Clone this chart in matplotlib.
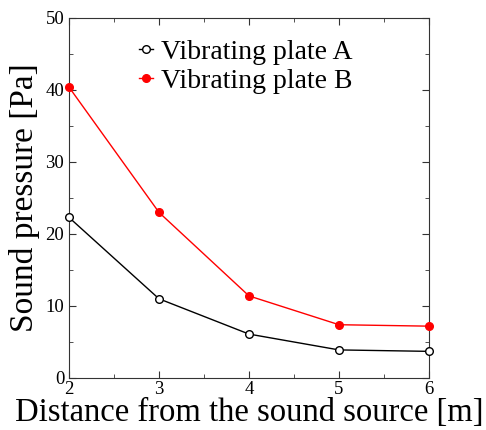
import matplotlib
matplotlib.use('Agg')
import matplotlib.pyplot as plt
from matplotlib.ticker import MultipleLocator

plt.rcParams['font.family'] = ['Liberation Serif', 'DejaVu Serif']
plt.rcParams['mathtext.fontset'] = 'stix'

distance = [2, 3, 4, 5, 6]
plate_a = [22.3, 11.0, 6.1, 3.9, 3.7]
plate_b = [40.4, 23.0, 11.4, 7.4, 7.2]

fig = plt.figure(figsize=(4.86, 4.30), dpi=100)
ax = fig.add_axes([69/486, 52/430, 360/486, 360/430])

ax.plot(distance, plate_a, color='black', lw=1, marker='o', ms=5.5,
        mfc='white', mec='black', mew=1, label='Vibrating plate A', clip_on=False, zorder=3)
ax.plot(distance, plate_b, color='red', lw=1, marker='o', ms=5.5,
        mfc='red', mec='red', label='Vibrating plate B', clip_on=False, zorder=3)

ax.set_xlim(2, 6)
ax.set_ylim(0, 50)
ax.xaxis.set_major_locator(MultipleLocator(1))
ax.xaxis.set_minor_locator(MultipleLocator(0.5))
ax.yaxis.set_major_locator(MultipleLocator(10))
ax.yaxis.set_minor_locator(MultipleLocator(5))
ax.tick_params(which='both', direction='in', top=True, right=True, labelsize=13.5, color='#333333')
ax.tick_params(which='major', length=5)
ax.tick_params(which='minor', length=3)
ax.tick_params(axis='x', pad=2)
for s in ax.spines.values():
    s.set_color('#333333')

ax.set_xlabel('Distance from the sound source [m]', fontsize=23.5, labelpad=0)
ax.set_ylabel('Sound pressure [Pa]', fontsize=24, labelpad=4)

ax.legend(loc='upper left', bbox_to_anchor=(0.155, 0.98), frameon=False, fontsize=20,
          handlelength=0.5, handletextpad=0.3, labelspacing=0.15, borderpad=0)

fig.savefig('out.png', dpi=100)
